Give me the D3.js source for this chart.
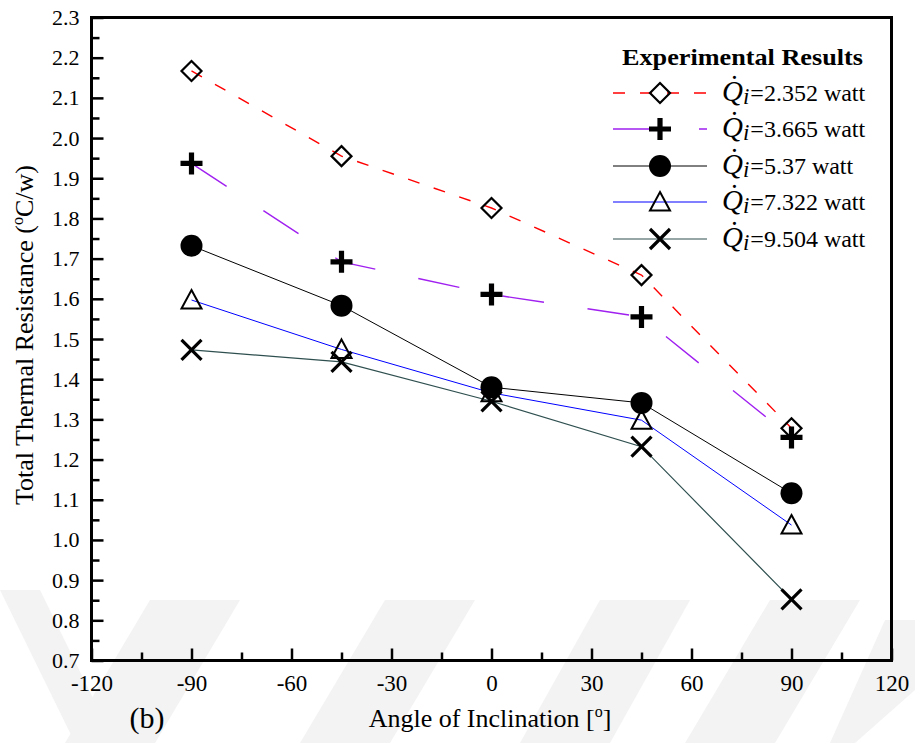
<!DOCTYPE html>
<html>
<head>
<meta charset="utf-8">
<script src="https://cdn.jsdelivr.net/npm/d3@7"></script>
<style>
  html, body { margin: 0; padding: 0; background: #fff; }
  svg { display: block; }
  svg text { font-family: "Liberation Serif", "Times New Roman", serif !important; fill: #000; }
</style>
</head>
<body>
<svg id="chart" width="915" height="743"></svg>
<script>
// Inclination angles (degrees)
const angles = [-90, -45, 0, 45, 90];

// Total thermal resistance (°C/W) for each heat input
const r2352 = [2.167, 1.955, 1.826, 1.659, 1.278];
const r3665 = [1.937, 1.692, 1.611, 1.555, 1.255];
const r5370 = [1.732, 1.583, 1.380, 1.341, 1.116];
const r7322 = [1.597, 1.474, 1.366, 1.298, 1.037];
const r9504 = [1.473, 1.443, 1.345, 1.232, 0.852];

const seriesNames = ["2.352", "3.665", "5.37", "7.322", "9.504"];

// Axis ticks
const xTicks = [-120, -90, -60, -30, 0, 30, 60, 90, 120];
const xMinorTicks = [-105, -75, -45, -15, 15, 45, 75, 105];
const yTicks = [0.7, 0.8, 0.9, 1.0, 1.1, 1.2, 1.3, 1.4, 1.5, 1.6, 1.7, 1.8, 1.9, 2.0, 2.1, 2.2, 2.3];
const yMinorTicks = [0.75, 0.85, 0.95, 1.05, 1.15, 1.25, 1.35, 1.45, 1.55, 1.65, 1.75, 1.85, 1.95, 2.05, 2.15, 2.25];

const series = [
  { name: seriesNames[0], values: r2352, color: "#ff0000", width: 1.4, dash: "12,15", marker: "diamond" },
  { name: seriesNames[1], values: r3665, color: "#a020f0", width: 1.4, dash: "42,44", marker: "plus" },
  { name: seriesNames[2], values: r5370, color: "#000000", width: 1, dash: null, marker: "circle" },
  { name: seriesNames[3], values: r7322, color: "#0000ff", width: 1, dash: null, marker: "triangle" },
  { name: seriesNames[4], values: r9504, color: "#2f4f4f", width: 1.2, dash: null, marker: "cross" }
];

const serif = '"Liberation Serif", "Times New Roman", serif';
const svg = d3.select("#chart");
const plotL = 91.5, plotR = 891.5, plotT = 17.5, plotB = 660.5;

const x = d3.scaleLinear().domain([-120, 120]).range([plotL, plotR]);
const y = d3.scaleLinear().domain([0.7, 2.3]).range([plotB, plotT]);

// faint background stripes
const bg = svg.append("g").attr("fill", "#f3f3f3");
[
  [[0, 590], [40, 590], [115, 743], [75, 743]],
  [[150, 600], [240, 600], [155, 743], [65, 743]],
  [[385, 600], [475, 600], [390, 743], [300, 743]],
  [[600, 600], [690, 600], [610, 743], [520, 743]],
  [[770, 600], [860, 600], [775, 743], [685, 743]],
  [[885, 620], [915, 620], [915, 690], [855, 743], [830, 743]]
].forEach(p => bg.append("polygon").attr("points", p.map(d => d.join(",")).join(" ")));

// Lines
const line = d3.line().x((d, i) => x(angles[i])).y(d => y(d));
series.forEach(s => {
  svg.append("path")
    .datum(s.values)
    .attr("d", line)
    .attr("fill", "none")
    .attr("stroke", s.color)
    .attr("stroke-width", s.width)
    .attr("stroke-dasharray", s.dash);
});

// Marker drawing
function drawMarker(g, type, cx, cy) {
  if (type === "diamond") {
    const h = 10;
    g.append("path").attr("d", `M${cx},${cy - h}L${cx + h},${cy}L${cx},${cy + h}L${cx - h},${cy}Z`)
      .attr("fill", "none").attr("stroke", "#000").attr("stroke-width", 2.2);
  } else if (type === "plus") {
    const h = 11, t = 2.6;
    g.append("path").attr("d",
      `M${cx - t},${cy - h}H${cx + t}V${cy - t}H${cx + h}V${cy + t}H${cx + t}V${cy + h}H${cx - t}V${cy + t}H${cx - h}V${cy - t}H${cx - t}Z`)
      .attr("fill", "#000");
  } else if (type === "circle") {
    g.append("circle").attr("cx", cx).attr("cy", cy).attr("r", 11).attr("fill", "#000");
  } else if (type === "triangle") {
    const w = 10, hUp = 10, hDown = 8.5;
    g.append("path").attr("d", `M${cx},${cy - hUp}L${cx + w},${cy + hDown}L${cx - w},${cy + hDown}Z`)
      .attr("fill", "none").attr("stroke", "#000").attr("stroke-width", 2);
  } else if (type === "cross") {
    const h = 10;
    g.append("path").attr("d", `M${cx - h},${cy - h}L${cx + h},${cy + h}M${cx + h},${cy - h}L${cx - h},${cy + h}`)
      .attr("fill", "none").attr("stroke", "#000").attr("stroke-width", 3.2);
  }
}

series.forEach(s => {
  const g = svg.append("g");
  s.values.forEach((v, i) => drawMarker(g, s.marker, x(angles[i]), y(v)));
});

// Axes
const xAxis = svg.append("g").attr("transform", `translate(0,${plotB})`)
  .call(d3.axisBottom(x).tickValues(xTicks).tickSizeInner(-12).tickSizeOuter(0).tickPadding(14).tickFormat(d => String(d)));
xAxis.attr("font-family", serif).attr("font-size", 23);
xAxis.select(".domain").remove();
xAxis.selectAll(".tick line").attr("stroke", "#000").attr("stroke-width", 2.5);
xAxis.selectAll(".tick text").attr("fill", "#000");

const xMinor = svg.append("g").attr("transform", `translate(0,${plotB})`)
  .call(d3.axisBottom(x).tickValues(xMinorTicks).tickSizeInner(-8).tickSizeOuter(0).tickFormat(""));
xMinor.select(".domain").remove();
xMinor.selectAll(".tick line").attr("stroke", "#000").attr("stroke-width", 2.5);

const yAxis = svg.append("g").attr("transform", `translate(${plotL},0)`)
  .call(d3.axisLeft(y).tickValues(yTicks).tickSizeInner(-12).tickSizeOuter(0).tickPadding(12).tickFormat(d3.format(".1f")));
yAxis.attr("font-family", serif).attr("font-size", 22);
yAxis.select(".domain").remove();
yAxis.selectAll(".tick line").attr("stroke", "#000").attr("stroke-width", 2.5);
yAxis.selectAll(".tick text").attr("fill", "#000");

const yMinor = svg.append("g").attr("transform", `translate(${plotL},0)`)
  .call(d3.axisLeft(y).tickValues(yMinorTicks).tickSizeInner(-8).tickSizeOuter(0).tickFormat(""));
yMinor.select(".domain").remove();
yMinor.selectAll(".tick line").attr("stroke", "#000").attr("stroke-width", 2.5);

// Frame
svg.append("rect").attr("x", plotL).attr("y", plotT).attr("width", plotR - plotL).attr("height", plotB - plotT)
  .attr("fill", "none").attr("stroke", "#000").attr("stroke-width", 3);

// Axis titles
const xt = svg.append("text").attr("x", 490).attr("y", 727).attr("text-anchor", "middle").attr("font-size", 26);
xt.append("tspan").text("Angle of Inclination [");
xt.append("tspan").attr("font-size", 16).attr("dy", -10).text("o");
xt.append("tspan").attr("dy", 10).text("]");

svg.append("text").attr("x", 147).attr("y", 728).attr("text-anchor", "middle").attr("font-size", 30).text("(b)");

const yt = svg.append("text").attr("transform", "translate(33,335) rotate(-90)").attr("text-anchor", "middle").attr("font-size", 26);
yt.append("tspan").text("Total Thermal Resistance (");
yt.append("tspan").attr("font-size", 16).attr("dy", -10).text("o");
yt.append("tspan").attr("dy", 10).text("C/w)");

// Legend
const lg = svg.append("g");
lg.append("text").attr("x", 742.5).attr("y", 65).attr("text-anchor", "middle").attr("font-size", 24)
  .attr("font-weight", "bold").attr("textLength", 241).attr("lengthAdjust", "spacingAndGlyphs")
  .text("Experimental Results");

const rowY = [93, 129, 166, 202, 239];
series.forEach((s, i) => {
  const yy = rowY[i];
  lg.append("line").attr("x1", 613).attr("x2", 707).attr("y1", yy).attr("y2", yy)
    .attr("stroke", s.color).attr("stroke-width", s.width).attr("stroke-dasharray", s.dash);
  drawMarker(lg, s.marker, 660, yy);
  const t = lg.append("text").attr("x", 722).attr("y", yy + 8).attr("font-size", 24);
  t.append("tspan").attr("font-style", "italic").attr("font-size", 29).text("Q\u0307");
  t.append("tspan").attr("font-style", "italic").attr("font-size", 23).attr("dy", 3).text("i");
  t.append("tspan").attr("dy", -3).attr("dx", 1).text("=" + s.name + " watt");
});
</script>
</body>
</html>
